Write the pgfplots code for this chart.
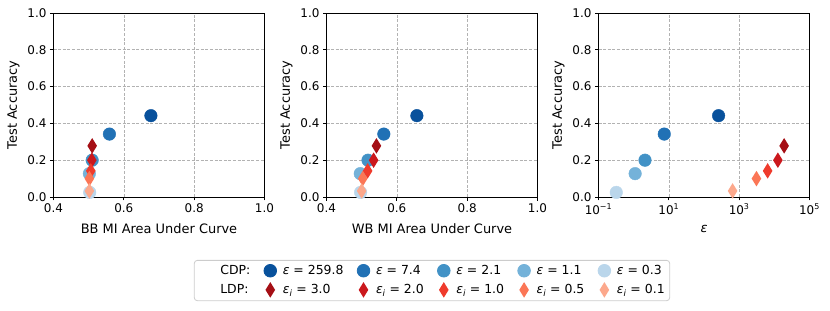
\documentclass[border=0pt]{standalone}
\usepackage{fontspec}
\setmainfont{DejaVu Sans}
\usepackage{pgfplots}
\pgfplotsset{compat=1.18}
\definecolor{bA}{HTML}{08519C}
\definecolor{bB}{HTML}{2171B5}
\definecolor{bC}{HTML}{4292C6}
\definecolor{bD}{HTML}{74B2D9}
\definecolor{bE}{HTML}{BAD6EB}
\definecolor{rA}{HTML}{A50F15}
\definecolor{rB}{HTML}{CB181D}
\definecolor{rC}{HTML}{EF3B2C}
\definecolor{rD}{HTML}{FB7656}
\definecolor{rE}{HTML}{FCA88C}
\pgfdeclareplotmark{tdiam}{%
  \pgfpathmoveto{\pgfqpoint{0bp}{7.8bp}}%
  \pgfpathlineto{\pgfqpoint{4.8bp}{0bp}}%
  \pgfpathlineto{\pgfqpoint{0bp}{-7.8bp}}%
  \pgfpathlineto{\pgfqpoint{-4.8bp}{0bp}}%
  \pgfpathclose
  \pgfusepathqfill}
\pgfplotsset{
  base/.style={
    scale only axis, width=211bp, height=184bp,
    ymin=0, ymax=1, ytick={0,0.2,0.4,0.6,0.8,1.0},
    grid=major,
    major grid style={dash pattern=on 3bp off 1.6bp, color=black!30, line width=0.6bp},
    axis line style={line width=0.8bp, black},
    tick align=outside, tick pos=left, major tick length=3.5bp,
    every tick/.style={black, line width=0.8bp},
    /pgf/number format/assume math mode=true,
    yticklabel style={/pgf/number format/.cd, fixed, fixed zerofill, precision=1},
    tick label style={font=\fontsize{12}{14}\selectfont},
    label style={font=\fontsize{13}{15}\selectfont},
    ylabel={Test Accuracy},
    ylabel style={at={(axis description cs:-0.19,0.5)}, anchor=center},
    xlabel style={at={(axis description cs:0.5,-0.174)}, anchor=center},
  },
  lin/.style={xmin=0.4, xmax=1.0, xtick={0.4,0.6,0.8,1.0},
    xticklabel style={/pgf/number format/.cd, fixed, fixed zerofill, precision=1}},
  cdp/.style={only marks, mark=*, mark size=6.3bp, color=#1,
    mark options={draw=none, fill=#1},
    legend image code/.code={\path[draw=none] (0bp,0bp) -- (21bp,0bp); \path[##1,draw=none,/tikz/only marks] plot coordinates {(10.5bp,0bp)};}},
  ldp/.style={only marks, mark=tdiam, color=#1,
    mark options={draw=none, fill=#1},
    legend image code/.code={\path[draw=none] (0bp,0bp) -- (21bp,0bp); \path[##1,draw=none,/tikz/only marks] plot coordinates {(10.5bp,0bp)};}},
  lbl/.style={legend image code/.code={\path[draw=none] (0bp,0bp) -- (21bp,0bp);}},
}
\begin{document}
\begin{tikzpicture}
\useasboundingbox (0,0) rectangle (830bp,311bp);
% Panel 1: BB MI
\begin{axis}[base, lin, at={(53.5bp,114bp)}, anchor=south west,
  xlabel={BB MI Area Under Curve}]
\addplot[cdp=bA] coordinates {(0.677,0.442)};
\addplot[cdp=bB] coordinates {(0.559,0.342)};
\addplot[cdp=bC] coordinates {(0.510,0.200)};
\addplot[cdp=bD] coordinates {(0.502,0.127)};
\addplot[cdp=bE] coordinates {(0.503,0.025)};
\addplot[ldp=rA] coordinates {(0.510,0.278)};
\addplot[ldp=rB] coordinates {(0.509,0.200)};
\addplot[ldp=rC] coordinates {(0.506,0.142)};
\addplot[ldp=rD] coordinates {(0.502,0.100)};
\addplot[ldp=rE] coordinates {(0.502,0.033)};
\end{axis}
% Panel 2: WB MI
\begin{axis}[base, lin, at={(326.5bp,114bp)}, anchor=south west,
  xlabel={WB MI Area Under Curve},
  legend columns=6, legend cell align=left,
  legend style={at={(0.5,-0.454)}, anchor=center,
    draw=black!20, line width=0.8bp, rounded corners=3bp,
    font=\fontsize{12.5}{15}\selectfont,
    inner xsep=3bp, inner ysep=3bp, row sep=4bp,
    /tikz/every even column/.append style={column sep=7.5bp}}]
\addplot[cdp=bA, forget plot] coordinates {(0.657,0.442)};
\addplot[cdp=bB, forget plot] coordinates {(0.563,0.342)};
\addplot[cdp=bC, forget plot] coordinates {(0.518,0.200)};
\addplot[cdp=bD, forget plot] coordinates {(0.496,0.127)};
\addplot[cdp=bE, forget plot] coordinates {(0.497,0.025)};
\addplot[ldp=rA, forget plot] coordinates {(0.542,0.278)};
\addplot[ldp=rB, forget plot] coordinates {(0.534,0.200)};
\addplot[ldp=rC, forget plot] coordinates {(0.517,0.142)};
\addplot[ldp=rD, forget plot] coordinates {(0.503,0.100)};
\addplot[ldp=rE, forget plot] coordinates {(0.500,0.033)};
\addlegendimage{lbl}\addlegendentry{CDP:}
\addlegendimage{cdp=bA}\addlegendentry{\textit{ε} = 259.8}
\addlegendimage{cdp=bB}\addlegendentry{\textit{ε} = 7.4}
\addlegendimage{cdp=bC}\addlegendentry{\textit{ε} = 2.1}
\addlegendimage{cdp=bD}\addlegendentry{\textit{ε} = 1.1}
\addlegendimage{cdp=bE}\addlegendentry{\textit{ε} = 0.3}
\addlegendimage{lbl}\addlegendentry{LDP:}
\addlegendimage{ldp=rA}\addlegendentry{\textit{ε\textsubscript{i}} = 3.0}
\addlegendimage{ldp=rB}\addlegendentry{\textit{ε\textsubscript{i}} = 2.0}
\addlegendimage{ldp=rC}\addlegendentry{\textit{ε\textsubscript{i}} = 1.0}
\addlegendimage{ldp=rD}\addlegendentry{\textit{ε\textsubscript{i}} = 0.5}
\addlegendimage{ldp=rE}\addlegendentry{\textit{ε\textsubscript{i}} = 0.1}
\end{axis}
% Panel 3: epsilon
\begin{axis}[base, at={(598.5bp,114bp)}, anchor=south west,
  xmode=log, xmin=0.1, xmax=100000, xminorticks=false,
  xtick={0.1,10,1000,100000},
  xticklabels={10\textsuperscript{−1},10\textsuperscript{1},10\textsuperscript{3},10\textsuperscript{5}},
  xlabel={\textit{ε}}]
\addplot[cdp=bA] coordinates {(259.8,0.442)};
\addplot[cdp=bB] coordinates {(7.4,0.342)};
\addplot[cdp=bC] coordinates {(2.1,0.200)};
\addplot[cdp=bD] coordinates {(1.1,0.127)};
\addplot[cdp=bE] coordinates {(0.32,0.025)};
\addplot[ldp=rA] coordinates {(19000,0.278)};
\addplot[ldp=rB] coordinates {(12600,0.200)};
\addplot[ldp=rC] coordinates {(6450,0.142)};
\addplot[ldp=rD] coordinates {(3100,0.100)};
\addplot[ldp=rE] coordinates {(650,0.033)};
\end{axis}
\end{tikzpicture}
\end{document}
